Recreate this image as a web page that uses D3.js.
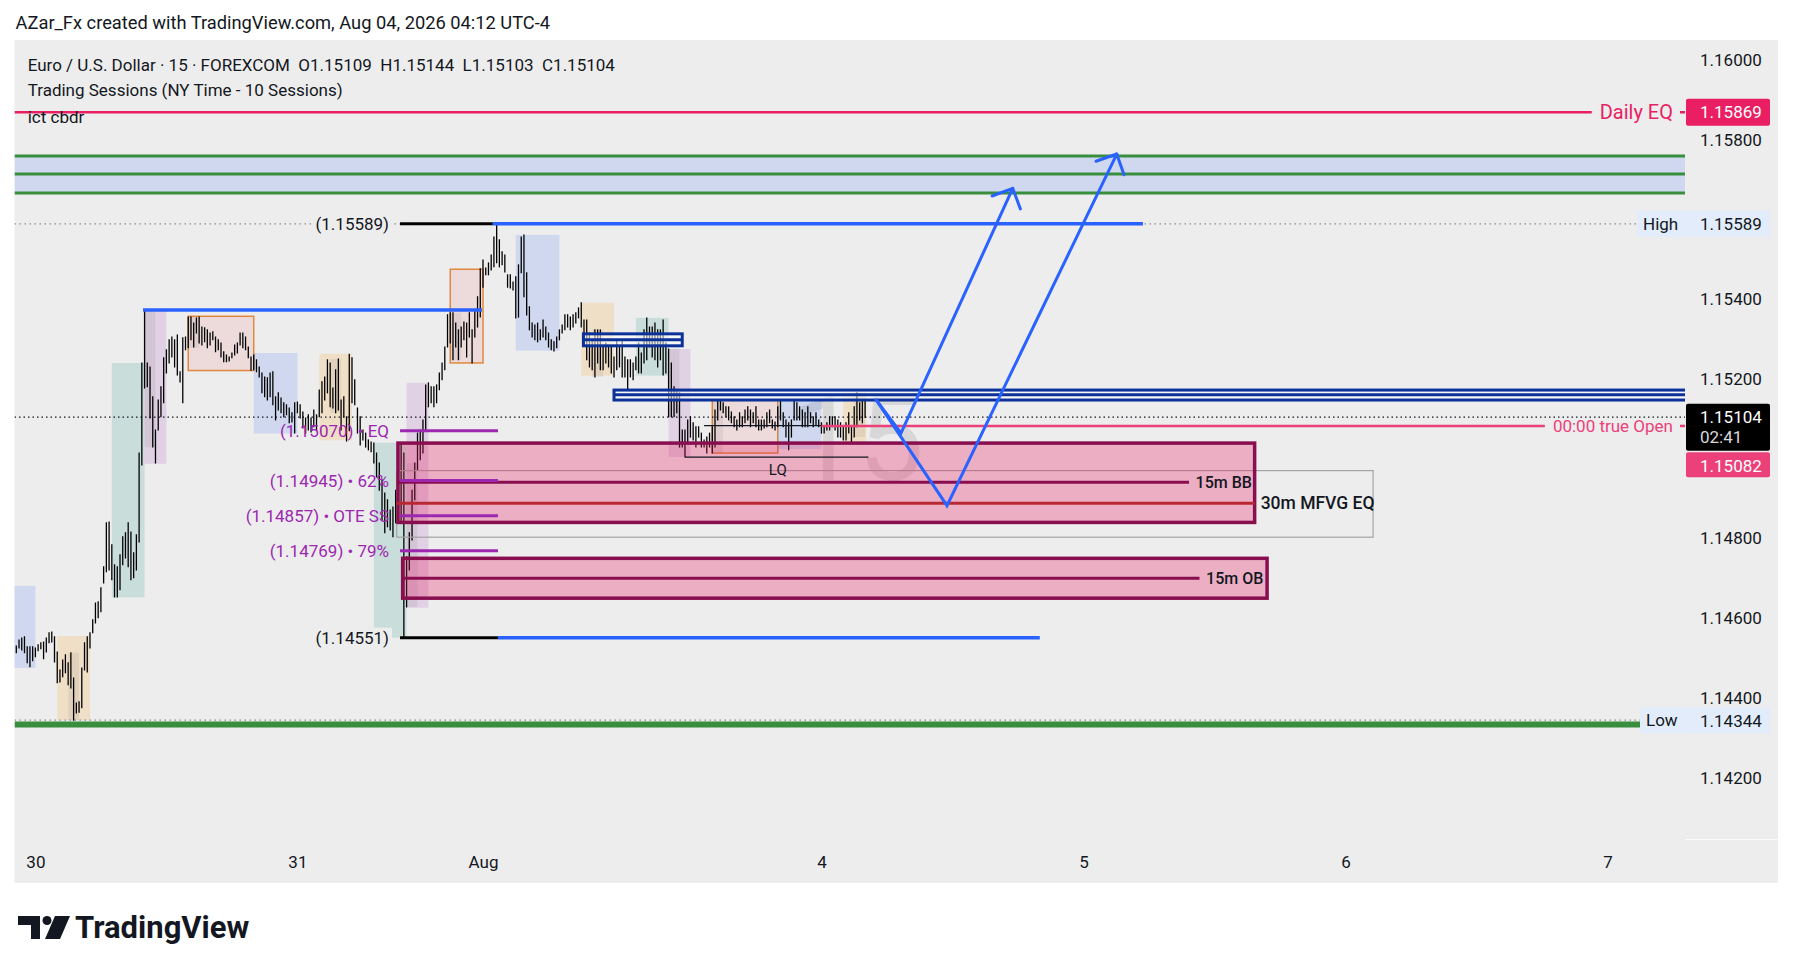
<!DOCTYPE html>
<head>
  <meta charset="utf-8">
  <script src="https://d3js.org/d3.v7.min.js"></script>
  <style>
    body { margin: 0; background: #fff; }
    text { font-family: Roboto, "Noto Sans", sans-serif; fill: #131722; }
  </style>
</head>
<body>

<div id="my_dataviz"></div>

<script>

  // ---------- data ----------
  // time = trading hours from Jul 30 00:00 (NY), weekend gap removed
  var firstBar = -1.75, barStep = 0.25;

  var barHighs = [
    1.14530,1.14545,1.14550,1.14553,1.14528,1.14528,1.14528,1.14525,1.14533,1.14538,
    1.14540,1.14550,1.14563,1.14565,1.14553,1.14515,1.14470,1.14495,1.14508,1.14488,
    1.14513,1.14450,1.14387,1.14390,1.14475,1.14538,1.14553,1.14563,1.14596,1.14638,
    1.14641,1.14676,1.14729,1.14839,1.14841,1.14784,1.14734,1.14729,1.14759,1.14804,
    1.14814,1.14839,1.14816,1.14764,1.14809,1.15014,1.15240,1.15373,1.15240,1.15230,
    1.15155,1.15072,1.15147,1.15180,1.15253,1.15273,1.15298,1.15305,1.15298,1.15310,
    1.15218,1.15303,1.15305,1.15355,1.15355,1.15340,1.15353,1.15355,1.15330,1.15328,
    1.15323,1.15315,1.15318,1.15305,1.15298,1.15290,1.15268,1.15260,1.15255,1.15265,
    1.15285,1.15290,1.15315,1.15315,1.15305,1.15280,1.15255,1.15260,1.15248,1.15230,
    1.15215,1.15205,1.15203,1.15215,1.15218,1.15155,1.15165,1.15152,1.15140,1.15135,
    1.15127,1.15115,1.15140,1.15142,1.15135,1.15117,1.15102,1.15110,1.15102,1.15122,
    1.15110,1.15172,1.15193,1.15205,1.15248,1.15240,1.15177,1.15223,1.15250,1.15147,
    1.15155,1.15105,1.15262,1.15253,1.15198,1.15127,1.15105,1.15072,1.15064,1.15047,
    1.15042,1.15039,1.15014,1.14989,1.14947,1.14914,1.14897,1.14871,1.14879,1.14921,
    1.14939,1.15039,1.15014,1.14754,1.14814,1.14921,1.14989,1.15064,1.15072,1.15097,
    1.15185,1.15190,1.15180,1.15180,1.15185,1.15215,1.15240,1.15280,1.15361,1.15366,
    1.15366,1.15340,1.15323,1.15330,1.15343,1.15340,1.15366,1.15323,1.15373,1.15406,
    1.15476,1.15498,1.15478,1.15491,1.15511,1.15556,1.15589,1.15549,1.15519,1.15511,
    1.15461,1.15461,1.15443,1.15456,1.15486,1.15556,1.15561,1.15466,1.15381,1.15340,
    1.15335,1.15340,1.15323,1.15348,1.15330,1.15315,1.15298,1.15293,1.15305,1.15323,
    1.15335,1.15361,1.15361,1.15355,1.15361,1.15366,1.15378,1.15391,1.15348,1.15348,
    1.15315,1.15298,1.15323,1.15323,1.15323,1.15280,1.15290,1.15280,1.15280,1.15255,
    1.15298,1.15280,1.15298,1.15255,1.15248,1.15248,1.15240,1.15255,1.15290,1.15265,
    1.15323,1.15353,1.15330,1.15330,1.15340,1.15323,1.15323,1.15348,1.15290,1.15275,
    1.15240,1.15180,1.15172,1.15165,1.15072,1.15072,1.15097,1.15105,1.15090,1.15080,
    1.15080,1.15064,1.15047,1.15054,1.15064,1.15080,1.15122,1.15147,1.15147,1.15140,
    1.15130,1.15130,1.15117,1.15105,1.15097,1.15115,1.15105,1.15122,1.15130,1.15122,
    1.15115,1.15130,1.15097,1.15097,1.15097,1.15115,1.15122,1.15097,1.15092,1.15130,
    1.15147,1.15115,1.15097,1.15090,1.15097,1.15147,1.15140,1.15130,1.15122,1.15115,
    1.15130,1.15115,1.15105,1.15115,1.15097,1.15090,1.15080,1.15090,1.15105,1.15105,
    1.15105,1.15097,1.15090,1.15080,1.15090,1.15115,1.15080,1.15130,1.15165,1.15140,
    1.15147,1.15144
  ];

  var barLows = [
    1.14513,1.14525,1.14520,1.14513,1.14488,1.14478,1.14493,1.14503,1.14518,1.14523,
    1.14498,1.14515,1.14538,1.14540,1.14490,1.14438,1.14440,1.14453,1.14463,1.14433,
    1.14425,1.14344,1.14362,1.14364,1.14375,1.14470,1.14465,1.14525,1.14563,1.14588,
    1.14601,1.14616,1.14688,1.14716,1.14721,1.14696,1.14653,1.14653,1.14671,1.14734,
    1.14751,1.14729,1.14696,1.14701,1.14721,1.14791,1.14984,1.15177,1.15180,1.15102,
    1.15029,1.14989,1.15072,1.15105,1.15140,1.15215,1.15240,1.15255,1.15230,1.15210,
    1.15192,1.15140,1.15273,1.15278,1.15298,1.15280,1.15315,1.15290,1.15285,1.15293,
    1.15278,1.15285,1.15298,1.15268,1.15273,1.15255,1.15243,1.15243,1.15245,1.15253,
    1.15260,1.15265,1.15285,1.15278,1.15273,1.15253,1.15222,1.15223,1.15218,1.15205,
    1.15165,1.15155,1.15147,1.15155,1.15135,1.15097,1.15122,1.15115,1.15105,1.15110,
    1.15090,1.15092,1.15064,1.15115,1.15102,1.15077,1.15064,1.15072,1.15067,1.15080,
    1.15072,1.15105,1.15115,1.15147,1.15165,1.15130,1.15127,1.15115,1.15122,1.15072,
    1.15105,1.15044,1.15070,1.15140,1.15135,1.15064,1.15034,1.15047,1.15029,1.15022,
    1.15017,1.14989,1.14954,1.14921,1.14846,1.14814,1.14829,1.14821,1.14804,1.14839,
    1.14839,1.14839,1.14551,1.14628,1.14721,1.14796,1.14897,1.14972,1.14997,1.15014,
    1.15072,1.15130,1.15140,1.15130,1.15140,1.15173,1.15198,1.15223,1.15280,1.15290,
    1.15248,1.15280,1.15248,1.15280,1.15298,1.15255,1.15305,1.15240,1.15305,1.15330,
    1.15355,1.15430,1.15461,1.15461,1.15473,1.15481,1.15491,1.15481,1.15486,1.15468,
    1.15430,1.15428,1.15423,1.15353,1.15355,1.15466,1.15406,1.15360,1.15323,1.15305,
    1.15298,1.15293,1.15298,1.15305,1.15298,1.15280,1.15273,1.15270,1.15278,1.15298,
    1.15315,1.15323,1.15330,1.15323,1.15330,1.15340,1.15353,1.15330,1.15290,1.15248,
    1.15230,1.15223,1.15205,1.15240,1.15223,1.15223,1.15240,1.15230,1.15215,1.15205,
    1.15223,1.15230,1.15205,1.15205,1.15173,1.15205,1.15198,1.15223,1.15215,1.15215,
    1.15240,1.15248,1.15280,1.15255,1.15248,1.15230,1.15248,1.15210,1.15215,1.15105,
    1.15105,1.15105,1.15115,1.15029,1.15029,1.15004,1.15039,1.15054,1.15047,1.15029,
    1.15054,1.15029,1.15029,1.15014,1.15029,1.15014,1.15029,1.15097,1.15122,1.15115,
    1.15105,1.15097,1.15090,1.15080,1.15072,1.15080,1.15080,1.15090,1.15097,1.15080,
    1.15090,1.15080,1.15072,1.15072,1.15077,1.15080,1.15090,1.15077,1.15072,1.15080,
    1.15097,1.15080,1.15054,1.15022,1.15054,1.15097,1.15097,1.15097,1.15080,1.15080,
    1.15080,1.15090,1.15080,1.15085,1.15080,1.15064,1.15064,1.15072,1.15072,1.15080,
    1.15072,1.15054,1.15054,1.15047,1.15047,1.15064,1.15039,1.15054,1.15080,1.15097,
    1.15090,1.15103
  ];

  var lastOpen = 1.15109, lastHigh = 1.15144, lastLow = 1.15103, lastClose = 1.15104;

  var dayTimes = [0, 24, 41, 72, 96, 120, 144];
  var dayLabels = ["30", "31", "Aug", "4", "5", "6", "7"];
  var priceTicks = [1.160, 1.158, 1.154, 1.152, 1.148, 1.146, 1.144, 1.142];

  // trading sessions indicator
  var sessionKinds = ["asia","london","nykz","lclose","cbdr","asia","london","nykz","lclose","cbdr",
                      "asia","london","nykz","lclose","cbdr","asia","london"];
  var sessionStarts = [-4, 2, 7, 10, 14, 20, 26, 31, 34, 38, 44, 50, 55, 58, 62, 68, 74];
  var sessionEnds   = [0, 5, 10, 12, 20, 24, 29, 34, 36, 41, 48, 53, 58, 60, 68, 72, 76.1];
  var sessionHighs  = [1.14681,1.14555,1.15240,1.15373,1.15357,1.15265,1.15263,1.15040,1.15190,
                       1.15475,1.15561,1.15391,1.15353,1.15275,1.15147,1.15147,1.15166];
  var sessionLows   = [1.14475,1.14344,1.14652,1.14987,1.15221,1.15063,1.15046,1.14551,1.14626,
                       1.15240,1.15271,1.15208,1.15208,1.15004,1.15014,1.15024,1.15039];
  var silverBulletStarts = [3, 10, 14, 27, 34, 38, 51, 58, 62, 75];

  var dailyEQ = 1.15869;
  var trueOpen = 1.15082, trueOpenTime = 72;
  var visibleHigh = 1.15589, visibleLow = 1.14344;
  var premiumLines = [1.15759, 1.15714, 1.15666];
  var lowBaseLine = 1.14333;

  // fib between swing high and swing low
  var swingHigh = 1.15589, swingLow = 1.14551;
  var fibStart = 33.4, swingHighEnd = 41.9, swingLowEnd = 42.37;
  var swingHighRay = 101.45, swingLowRay = 92.0;
  var fibPrices = [1.15070, 1.14945, 1.14857, 1.14769];
  var fibNames = ["EQ", "62%", "OTE SS", "79%"];
  var oldHigh = 1.15373, oldHighStart = 9.86, oldHighEnd = 40.9;

  // pink order blocks / breaker, grey fvg
  var bbTop = 1.15039, bbBottom = 1.14840, bbMid = 1.14941, bbStart = 33.21, bbEnd = 111.68, bbMidEnd = 105.67;
  var obTop = 1.14750, obBottom = 1.14650, obMid = 1.14700, obStart = 33.64, obEnd = 112.82, obMidEnd = 106.63;
  var fvgTop = 1.14970, fvgBottom = 1.14803, fvgEQ = 1.14888, fvgStart = 33.10, fvgEnd = 122.53;

  // navy zones [top, mid, bottom]
  var bigZone = [1.15172, 1.15160, 1.15147], bigZoneStart = 53.0;
  var smallZone = [1.15313, 1.15298, 1.15283], smallZoneStart = 50.2, smallZoneEnd = 59.25;

  // liquidity lines
  var lqPrice = 1.15004, lqStart = 59.5, lqEnd = 76.3;
  var rangeLine = 1.15083, rangeStart = 61.25, rangeEnd = 72;

  // projected paths
  var pathATimes = [76.95, 83.5, 99.05], pathAPrices = [1.15150, 1.14882, 1.15764];
  var pathBTimes = [76.95, 79.29, 89.52], pathBPrices = [1.15150, 1.15064, 1.15678];

  // ---------- layout ----------
  var width = 1793, height = 973;
  var plot = {left: 14.5, right: 1685, top: 40, bottom: 839};
  var panelRight = 1778, panelBottom = 883;
  var bg = "#ededed";

  var svg = d3.select("#my_dataviz")
    .append("svg")
      .attr("width", width)
      .attr("height", height)
      .style("display", "block");

  svg.append("rect").attr("width", width).attr("height", height).attr("fill", "#fff");
  svg.append("rect")
    .attr("x", plot.left).attr("y", plot.top)
    .attr("width", panelRight - plot.left).attr("height", panelBottom - plot.top)
    .attr("fill", bg);

  svg.append("defs").append("clipPath").attr("id", "plotclip")
    .append("rect")
      .attr("x", plot.left).attr("y", plot.top)
      .attr("width", plot.right - plot.left).attr("height", plot.bottom - plot.top);

  var x = d3.scaleLinear().domain([-1.914, 151.1]).range([plot.left, plot.right]);
  var y = d3.scaleLinear().domain([1.14046, 1.16050]).range([plot.bottom, plot.top]);
  var fmt = d3.format(".5f");
  var barTime = function(i) { return firstBar + i * barStep; };

  var chart = svg.append("g").attr("clip-path", "url(#plotclip)");

  function hline(g, price, t0, t1, color, w, dash) {
    var l = g.append("line")
      .attr("x1", typeof t0 === "number" ? x(t0) : t0.px)
      .attr("x2", typeof t1 === "number" ? x(t1) : t1.px)
      .attr("y1", y(price)).attr("y2", y(price))
      .style("stroke", color).style("stroke-width", w);
    if (dash) l.style("stroke-dasharray", dash);
    return l;
  }

  // watermark
  chart.append("text")
    .attr("x", (plot.left + plot.right) / 2 + 8)
    .attr("y", (plot.top + plot.bottom) / 2)
    .attr("text-anchor", "middle")
    .attr("dominant-baseline", "central")
    .style("font-size", "118px")
    .style("fill", "rgba(0,0,0,0.09)")
    .text("15");

  // sessions
  var sessionFill = {
    asia: "rgba(41,98,255,0.15)",
    london: "rgba(255,152,0,0.16)",
    nykz: "rgba(0,137,123,0.15)",
    lclose: "rgba(156,39,176,0.14)",
    cbdr: "rgba(240,40,50,0.09)"
  };
  chart.selectAll(".session")
    .data(sessionKinds)
    .join("rect")
      .attr("x", function(d, i) { return x(sessionStarts[i]); })
      .attr("width", function(d, i) { return x(sessionEnds[i]) - x(sessionStarts[i]); })
      .attr("y", function(d, i) { return y(sessionHighs[i]); })
      .attr("height", function(d, i) { return y(sessionLows[i]) - y(sessionHighs[i]); })
      .style("fill", function(d) { return sessionFill[d]; })
      .style("stroke", function(d) { return d === "cbdr" ? "#e0883c" : "none"; })
      .style("stroke-width", 1.5);

  // silver bullet hours: range of the bars inside each hour
  silverBulletStarts.forEach(function(s) {
    var idx = d3.range(barHighs.length).filter(function(i) {
      return barTime(i) >= s && barTime(i) < s + 1;
    });
    if (!idx.length) return;
    var hi = d3.max(idx, function(i) { return barHighs[i]; });
    var lo = d3.min(idx, function(i) { return barLows[i]; });
    chart.append("rect")
      .attr("x", x(s)).attr("width", x(s + 1) - x(s))
      .attr("y", y(hi)).attr("height", y(lo) - y(hi))
      .style("fill", "rgba(0,0,0,0.06)");
  });

  // premium zone
  chart.append("rect")
    .attr("x", plot.left).attr("width", plot.right - plot.left)
    .attr("y", y(premiumLines[0])).attr("height", y(premiumLines[2]) - y(premiumLines[0]))
    .style("fill", "rgba(41,98,255,0.15)");
  premiumLines.forEach(function(p) { hline(chart, p, {px: plot.left}, {px: plot.right}, "#388e3c", 3); });

  // dotted high / low / last price
  hline(chart, visibleHigh, {px: plot.left}, {px: plot.right}, "#8a8d96", 1.2, "1.5,3.5");
  hline(chart, visibleLow, {px: plot.left}, {px: plot.right}, "#8a8d96", 1.2, "1.5,3.5");
  hline(chart, lastClose, {px: plot.left}, {px: plot.right}, "#131722", 1.2, "1.5,3");

  // bars
  chart.append("g").selectAll("line")
    .data(barHighs)
    .join("line")
      .attr("x1", function(d, i) { return x(barTime(i)); })
      .attr("x2", function(d, i) { return x(barTime(i)); })
      .attr("y1", function(d) { return y(d) - 0.5; })
      .attr("y2", function(d, i) { return y(barLows[i]) + 0.5; })
      .style("stroke", "#000")
      .style("stroke-width", 1.3);

  // pink blocks and grey fvg
  function box(t0, t1, top, bottom, fill, stroke, sw) {
    chart.append("rect")
      .attr("x", x(t0)).attr("width", x(t1) - x(t0))
      .attr("y", y(top)).attr("height", y(bottom) - y(top))
      .style("fill", fill).style("stroke", stroke).style("stroke-width", sw);
  }
  box(fvgStart, fvgEnd, fvgTop, fvgBottom, "none", "#a3a3a3", 1.2);
  box(bbStart, bbEnd, bbTop, bbBottom, "rgba(233,30,99,0.3)", "#880e4f", 3.5);
  box(obStart, obEnd, obTop, obBottom, "rgba(233,30,99,0.3)", "#880e4f", 3.5);
  hline(chart, bbMid, bbStart, bbMidEnd, "#880e4f", 3);
  hline(chart, obMid, obStart, obMidEnd, "#880e4f", 3);
  hline(chart, fvgEQ, fvgStart, bbEnd, "#b82832", 3);

  function blockLabel(t, price, txt, size) {
    chart.append("text")
      .attr("x", x(t)).attr("y", y(price))
      .attr("dominant-baseline", "central")
      .style("font-size", size + "px").style("font-weight", 500)
      .text(txt);
  }
  blockLabel(bbMidEnd + 0.6, bbMid, "15m BB", 16);
  blockLabel(obMidEnd + 0.6, obMid, "15m OB", 16);
  blockLabel(bbEnd + 0.55, fvgEQ, "30m MFVG EQ", 17.5);

  // navy zones
  function navyZone(z, t0, t1) {
    chart.append("rect")
      .attr("x", x(t0)).attr("width", x(t1) - x(t0))
      .attr("y", y(z[0])).attr("height", y(z[2]) - y(z[0]))
      .style("fill", "rgba(255,255,255,0.55)")
      .style("stroke", "#0c3299").style("stroke-width", 3);
    hline(chart, z[1], t0, t1, "#0c3299", 3);
  }
  navyZone(smallZone, smallZoneStart, smallZoneEnd);
  navyZone(bigZone, bigZoneStart, 160);

  // liquidity
  hline(chart, lqPrice, lqStart, lqEnd, "#131722", 1.2);
  hline(chart, rangeLine, rangeStart, rangeEnd, "#131722", 1.2);
  chart.append("text")
    .attr("x", x(68.0)).attr("y", y(lqPrice) + 13)
    .attr("text-anchor", "middle").attr("dominant-baseline", "central")
    .style("font-size", "15px").text("LQ");

  // old high ray
  hline(chart, oldHigh, oldHighStart, oldHighEnd, "#2962ff", 3.5);

  // fib and swing lines
  hline(chart, swingHigh, fibStart, swingHighEnd, "#000", 3);
  hline(chart, swingLow, fibStart, swingLowEnd, "#000", 3);
  hline(chart, swingHigh, swingHighEnd, swingHighRay, "#2962ff", 3.5);
  hline(chart, swingLow, swingLowEnd, swingLowRay, "#2962ff", 3.5);
  fibPrices.forEach(function(p) { hline(chart, p, fibStart, swingLowEnd, "#9c27b0", 3); });

  var labelRight = x(fibStart) - 11;
  [swingHigh, swingLow].forEach(function(p) {
    var t = chart.append("text")
      .attr("x", labelRight).attr("y", y(p))
      .attr("text-anchor", "end").attr("dominant-baseline", "central")
      .style("font-size", "17px")
      .text("(" + fmt(p) + ")");
    var w = t.node().getComputedTextLength();
    chart.insert("rect", function() { return t.node(); })
      .attr("x", labelRight - w - 3).attr("width", w + 6)
      .attr("y", y(p) - 10).attr("height", 20)
      .style("fill", bg);
  });
  fibPrices.forEach(function(p, i) {
    chart.append("text")
      .attr("x", labelRight).attr("y", y(p))
      .attr("text-anchor", "end").attr("dominant-baseline", "central")
      .style("font-size", "17px").style("fill", "#9c27b0")
      .text("(" + fmt(p) + ") \u2022 " + fibNames[i]);
  });

  // level lines with labels on the right
  function labelledLine(price, t0, txt, color, size) {
    var t = chart.append("text")
      .attr("x", plot.right - 12).attr("y", y(price))
      .attr("text-anchor", "end").attr("dominant-baseline", "central")
      .style("font-size", size + "px").style("fill", color)
      .text(txt);
    var w = t.node().getComputedTextLength();
    chart.append("line")
      .attr("x1", typeof t0 === "number" ? x(t0) : plot.left).attr("x2", plot.right - 12 - w - 8)
      .attr("y1", y(price)).attr("y2", y(price))
      .style("stroke", color).style("stroke-width", 2.5);
    chart.append("line")
      .attr("x1", plot.right - 5).attr("x2", plot.right)
      .attr("y1", y(price)).attr("y2", y(price))
      .style("stroke", color).style("stroke-width", 2.5);
  }

  // legend (drawn before the daily EQ line, which crosses it)
  var gap = "\u00a0\u00a0";
  var legend = svg.append("g");
  legend.append("text").attr("x", 27.7).attr("y", 71).style("font-size", "17px")
    .text("Euro / U.S. Dollar \u00b7 15 \u00b7 FOREXCOM" + gap + "O" + fmt(lastOpen) + gap + "H" + fmt(lastHigh) +
          gap + "L" + fmt(lastLow) + gap + "C" + fmt(lastClose));
  legend.append("text").attr("x", 27.7).attr("y", 96).style("font-size", "17px")
    .text("Trading Sessions (NY Time - 10 Sessions)");
  legend.append("text").attr("x", 27.7).attr("y", 123).style("font-size", "17px")
    .text("ict cbdr");

  labelledLine(dailyEQ, null, "Daily EQ", "#e91e63", 20);
  labelledLine(trueOpen, trueOpenTime, "00:00 true Open", "#ec407a", 17);

  // green base line
  hline(chart, lowBaseLine, {px: plot.left}, {px: plot.right}, "#388e3c", 6);

  // projected paths
  var line = d3.line()
    .x(function(d) { return x(d[0]); })
    .y(function(d) { return y(d[1]); });
  [[pathATimes, pathAPrices], [pathBTimes, pathBPrices]].forEach(function(p) {
    var pts = p[0].map(function(t, i) { return [t, p[1][i]]; });
    chart.append("path")
      .attr("d", line(pts))
      .style("fill", "none").style("stroke", "#2962ff").style("stroke-width", 3)
      .style("stroke-linejoin", "miter");
    var n = pts.length;
    var tip = [x(pts[n - 1][0]), y(pts[n - 1][1])];
    var from = [x(pts[n - 2][0]), y(pts[n - 2][1])];
    var a = Math.atan2(from[1] - tip[1], from[0] - tip[0]);
    [-1, 1].forEach(function(s) {
      var b = a + s * Math.PI / 4;
      chart.append("line")
        .attr("x1", tip[0]).attr("y1", tip[1])
        .attr("x2", tip[0] + 22 * Math.cos(b)).attr("y2", tip[1] + 22 * Math.sin(b))
        .style("stroke", "#2962ff").style("stroke-width", 3).style("stroke-linecap", "round");
    });
  });

  // ---------- axes ----------
  var yAxis = svg.append("g")
    .attr("transform", "translate(1700,0)")
    .call(d3.axisRight(y).tickValues(priceTicks).tickSize(0).tickPadding(0).tickFormat(fmt));
  yAxis.select(".domain").remove();
  yAxis.selectAll("text")
    .attr("font-family", null)
    .style("font-size", "17px").style("fill", "#131722");

  var xAxis = svg.append("g")
    .attr("transform", "translate(0,856)")
    .call(d3.axisBottom(x).tickValues(dayTimes).tickSize(0).tickPadding(0)
      .tickFormat(function(d, i) { return dayLabels[i]; }));
  xAxis.select(".domain").remove();
  xAxis.selectAll("text")
    .attr("font-family", null)
    .style("font-size", "17px").style("fill", "#131722");

  svg.append("line")
    .attr("x1", plot.right).attr("x2", panelRight)
    .attr("y1", plot.bottom + 0.5).attr("y2", plot.bottom + 0.5)
    .style("stroke", "#fafafa").style("stroke-width", 1);

  // price tags on the scale
  function tag(cy, h, fill, lines, colors) {
    svg.append("rect")
      .attr("x", 1686).attr("y", cy - 13.5).attr("width", 84).attr("height", h)
      .attr("rx", 2).style("fill", fill);
    lines.forEach(function(s, i) {
      svg.append("text")
        .attr("x", 1700).attr("y", cy + i * 20)
        .attr("dominant-baseline", "central")
        .style("font-size", "17px").style("fill", colors[i])
        .text(s);
    });
  }
  function sideTag(price, txt, left) {
    svg.append("rect")
      .attr("x", left).attr("y", y(price) - 13).attr("width", 1686 - left).attr("height", 26)
      .style("fill", "#e2ecfa");
    svg.append("text")
      .attr("x", left + 6).attr("y", y(price))
      .attr("dominant-baseline", "central")
      .style("font-size", "17px")
      .text(txt);
    tag(y(price) + 0.5, 26, "#e2ecfa", [fmt(price)], ["#131722"]);
  }
  tag(y(dailyEQ), 27, "#e91e63", [fmt(dailyEQ)], ["#fff"]);
  sideTag(visibleHigh, "High", 1637);
  sideTag(visibleLow, "Low", 1640);
  tag(y(lastClose), 47, "#000", [fmt(lastClose), "02:41"], ["#fff", "#d8d8d8"]);
  tag(y(lastClose) + 48.5, 25, "#ec407a", [fmt(trueOpen)], ["#fff"]);

  // ---------- header / footer ----------
  svg.append("text").attr("x", 15.6).attr("y", 29).style("font-size", "18.3px")
    .text("AZar_Fx created with TradingView.com, Aug 04, 2026 04:12 UTC-4");

  var logo = svg.append("g");
  logo.append("path")
    .attr("d", "M18,916 H40 V939 H31 V925 H18 Z")
    .style("fill", "#131722");
  logo.append("circle").attr("cx", 47).attr("cy", 920.5).attr("r", 4.5).style("fill", "#131722");
  logo.append("path")
    .attr("d", "M55,916 H70 L60,939 H45 Z")
    .style("fill", "#131722");
  logo.append("text").attr("x", 75).attr("y", 938)
    .style("font-size", "31px").style("font-weight", 700)
    .text("TradingView");

</script>

</body>
